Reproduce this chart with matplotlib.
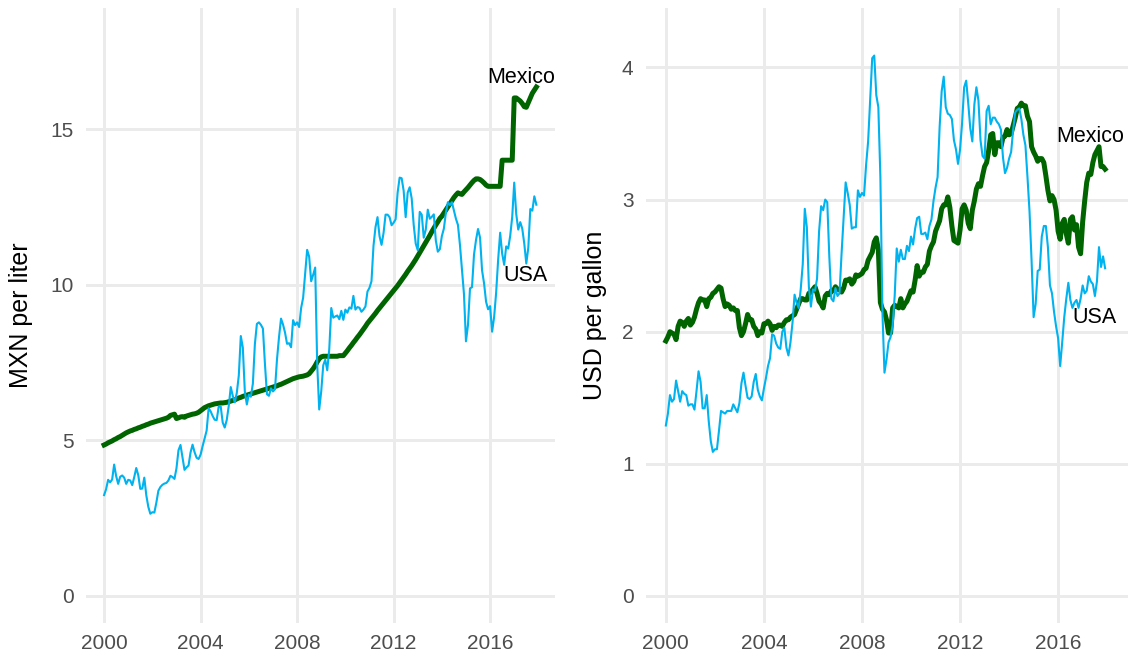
import numpy as np
import matplotlib
matplotlib.use("Agg")
import matplotlib.pyplot as plt

plt.rcParams['font.family'] = ['Liberation Sans', 'DejaVu Sans']

# monthly, Jan 2000 .. Dec 2017
mexico_mxn_liter = [
    4.85, 4.88, 4.92, 4.95, 4.98, 5.02, 5.05, 5.09, 5.12, 5.16, 5.20, 5.24,
    5.27, 5.30, 5.32, 5.35, 5.37, 5.40, 5.42, 5.45, 5.47, 5.50, 5.52, 5.55,
    5.57, 5.59, 5.61, 5.63, 5.65, 5.67, 5.69, 5.71, 5.74, 5.80, 5.82, 5.84,
    5.70, 5.72, 5.75, 5.76, 5.74, 5.78, 5.80, 5.82, 5.84, 5.85, 5.87, 5.90,
    5.95, 6.00, 6.05, 6.08, 6.11, 6.13, 6.15, 6.17, 6.18, 6.19, 6.20, 6.20,
    6.21, 6.22, 6.24, 6.26, 6.28, 6.30, 6.33, 6.36, 6.38, 6.41, 6.43, 6.45,
    6.47, 6.49, 6.51, 6.53, 6.55, 6.57, 6.59, 6.61, 6.63, 6.65, 6.67, 6.69,
    6.71, 6.73, 6.75, 6.78, 6.80, 6.83, 6.86, 6.89, 6.92, 6.95, 6.98, 7.00,
    7.02, 7.04, 7.05, 7.06, 7.08, 7.10, 7.14, 7.22, 7.30, 7.40, 7.52, 7.62,
    7.68, 7.70, 7.70, 7.70, 7.70, 7.70, 7.70, 7.70, 7.70, 7.72, 7.72, 7.72,
    7.80, 7.88, 7.97, 8.05, 8.14, 8.22, 8.31, 8.39, 8.48, 8.57, 8.66, 8.76,
    8.84, 8.92, 9.00, 9.08, 9.17, 9.25, 9.33, 9.41, 9.49, 9.57, 9.65, 9.73,
    9.81, 9.89, 9.97, 10.06, 10.15, 10.24, 10.33, 10.43, 10.52, 10.61, 10.71, 10.81,
    10.92, 11.03, 11.14, 11.25, 11.36, 11.47, 11.58, 11.70, 11.81, 11.92, 12.02, 12.13,
    12.20, 12.30, 12.40, 12.50, 12.60, 12.70, 12.80, 12.88, 12.95, 12.92, 12.90, 12.98,
    13.05, 13.12, 13.20, 13.28, 13.35, 13.40, 13.40, 13.38, 13.33, 13.27, 13.20, 13.16,
    13.16, 13.16, 13.16, 13.16, 13.16, 13.16, 14.00, 14.00, 14.00, 14.00, 14.00, 14.00,
    16.00, 16.00, 15.95, 15.90, 15.82, 15.72, 15.70, 15.85, 16.00, 16.15, 16.25, 16.35,
]

usa_mxn_liter = [
    3.24, 3.43, 3.73, 3.65, 3.74, 4.22, 3.85, 3.60, 3.83, 3.87, 3.80, 3.60,
    3.73, 3.71, 3.56, 3.82, 4.11, 3.88, 3.44, 3.45, 3.80, 3.23, 2.86, 2.64,
    2.69, 2.68, 3.00, 3.38, 3.50, 3.57, 3.61, 3.63, 3.71, 3.86, 3.82, 3.76,
    4.10, 4.68, 4.85, 4.44, 4.05, 4.13, 4.19, 4.61, 4.86, 4.62, 4.44, 4.40,
    4.54, 4.81, 5.06, 5.31, 6.03, 5.93, 5.78, 5.66, 5.65, 6.08, 6.09, 5.57,
    5.41, 5.65, 6.10, 6.71, 6.43, 6.22, 6.52, 7.08, 8.35, 7.98, 6.57, 6.15,
    6.47, 6.40, 6.82, 8.09, 8.74, 8.79, 8.71, 8.59, 7.46, 6.48, 6.43, 6.67,
    6.57, 6.64, 7.60, 8.31, 8.91, 8.72, 8.46, 8.10, 8.12, 7.99, 8.86, 8.70,
    8.79, 8.64, 9.25, 9.58, 10.37, 11.12, 10.90, 10.11, 10.32, 10.55, 7.45, 5.99,
    6.57, 7.41, 7.59, 7.25, 7.93, 9.25, 8.94, 8.98, 9.01, 8.89, 9.16, 8.87,
    9.20, 9.10, 9.27, 9.23, 9.64, 9.20, 9.28, 9.26, 9.13, 9.20, 9.30, 9.78,
    9.90, 10.11, 11.25, 11.85, 12.17, 11.56, 11.28, 11.66, 12.25, 12.25, 12.17, 11.91,
    11.99, 12.10, 12.96, 13.44, 13.42, 13.02, 12.17, 12.96, 13.13, 12.77, 11.92, 11.32,
    11.11, 12.34, 12.25, 11.51, 11.77, 12.41, 12.12, 12.18, 12.26, 11.42, 11.06, 11.14,
    11.56, 11.80, 12.31, 12.65, 12.56, 12.65, 12.39, 12.12, 11.92, 11.28, 10.47, 9.70,
    8.18, 8.71, 9.88, 9.92, 10.97, 11.44, 11.79, 11.51, 10.46, 10.04, 9.45, 9.21,
    9.31, 8.49, 8.96, 9.74, 10.80, 11.67, 11.00, 10.64, 11.23, 11.16, 11.57, 12.18,
    13.28, 12.27, 11.77, 12.01, 11.80, 11.32, 10.68, 11.19, 12.43, 12.38, 12.84, 12.57,
]

usa_usd_gallon = [
    1.29, 1.38, 1.52, 1.47, 1.49, 1.63, 1.55, 1.47, 1.55, 1.53, 1.52, 1.44,
    1.45, 1.45, 1.41, 1.55, 1.70, 1.62, 1.42, 1.42, 1.52, 1.32, 1.17, 1.09,
    1.11, 1.11, 1.25, 1.40, 1.39, 1.38, 1.40, 1.40, 1.40, 1.45, 1.42, 1.39,
    1.46, 1.61, 1.69, 1.59, 1.50, 1.49, 1.51, 1.62, 1.68, 1.56, 1.51, 1.48,
    1.57, 1.65, 1.74, 1.80, 1.98, 1.97, 1.91, 1.88, 1.87, 2.00, 2.03, 1.88,
    1.82, 1.92, 2.07, 2.28, 2.22, 2.18, 2.32, 2.51, 2.93, 2.79, 2.34, 2.19,
    2.32, 2.31, 2.40, 2.76, 2.95, 2.92, 3.00, 2.98, 2.57, 2.25, 2.23, 2.33,
    2.27, 2.29, 2.59, 2.86, 3.13, 3.05, 2.96, 2.78, 2.79, 2.79, 3.07, 3.02,
    3.05, 3.03, 3.26, 3.44, 3.76, 4.07, 4.09, 3.79, 3.70, 3.17, 2.15, 1.69,
    1.79, 1.92, 1.96, 2.05, 2.27, 2.63, 2.53, 2.62, 2.55, 2.55, 2.65, 2.61,
    2.72, 2.66, 2.78, 2.86, 2.87, 2.74, 2.74, 2.75, 2.70, 2.80, 2.85, 2.99,
    3.09, 3.17, 3.55, 3.82, 3.93, 3.70, 3.65, 3.64, 3.61, 3.45, 3.38, 3.27,
    3.38, 3.58, 3.85, 3.90, 3.73, 3.54, 3.44, 3.72, 3.85, 3.75, 3.45, 3.33,
    3.31, 3.67, 3.71, 3.57, 3.62, 3.62, 3.59, 3.57, 3.53, 3.32, 3.20, 3.24,
    3.31, 3.36, 3.53, 3.66, 3.68, 3.69, 3.61, 3.49, 3.41, 3.17, 2.91, 2.54,
    2.11, 2.21, 2.46, 2.47, 2.72, 2.80, 2.80, 2.64, 2.35, 2.29, 2.15, 2.04,
    1.95, 1.74, 1.92, 2.11, 2.25, 2.37, 2.24, 2.18, 2.22, 2.24, 2.18, 2.25,
    2.35, 2.29, 2.31, 2.42, 2.38, 2.36, 2.27, 2.38, 2.64, 2.49, 2.57, 2.48,
]

mexico_usd_gallon = [
    1.93, 1.96, 2.00, 1.99, 1.98, 1.94, 2.04, 2.08, 2.07, 2.04, 2.08, 2.10,
    2.05, 2.07, 2.11, 2.17, 2.22, 2.25, 2.24, 2.24, 2.19, 2.25, 2.26, 2.29,
    2.30, 2.32, 2.34, 2.33, 2.25, 2.19, 2.21, 2.20, 2.17, 2.18, 2.16, 2.16,
    2.03, 1.97, 2.00, 2.06, 2.13, 2.09, 2.09, 2.04, 2.02, 1.97, 2.00, 1.99,
    2.06, 2.06, 2.08, 2.06, 2.01, 2.04, 2.03, 2.05, 2.05, 2.04, 2.07, 2.09,
    2.09, 2.11, 2.12, 2.13, 2.17, 2.21, 2.25, 2.25, 2.24, 2.24, 2.29, 2.30,
    2.32, 2.34, 2.29, 2.23, 2.21, 2.18, 2.27, 2.29, 2.28, 2.31, 2.31, 2.34,
    2.32, 2.32, 2.30, 2.33, 2.39, 2.39, 2.40, 2.36, 2.38, 2.43, 2.42, 2.43,
    2.44, 2.47, 2.48, 2.54, 2.57, 2.60, 2.68, 2.71, 2.62, 2.22, 2.17, 2.15,
    2.09, 1.99, 1.99, 2.18, 2.20, 2.19, 2.18, 2.25, 2.18, 2.21, 2.23, 2.27,
    2.31, 2.30, 2.39, 2.50, 2.42, 2.45, 2.45, 2.49, 2.51, 2.61, 2.65, 2.68,
    2.76, 2.80, 2.84, 2.93, 2.96, 2.96, 3.02, 2.94, 2.80, 2.69, 2.68, 2.67,
    2.77, 2.93, 2.96, 2.92, 2.82, 2.78, 2.92, 2.99, 3.08, 3.12, 3.10, 3.18,
    3.25, 3.28, 3.37, 3.49, 3.50, 3.34, 3.43, 3.43, 3.40, 3.47, 3.48, 3.53,
    3.49, 3.50, 3.56, 3.62, 3.69, 3.70, 3.73, 3.71, 3.71, 3.63, 3.59, 3.40,
    3.36, 3.33, 3.29, 3.31, 3.31, 3.28, 3.18, 3.07, 2.99, 3.03, 3.00, 2.92,
    2.76, 2.70, 2.82, 2.85, 2.74, 2.67, 2.85, 2.87, 2.77, 2.81, 2.64, 2.59,
    2.83, 2.99, 3.13, 3.20, 3.19, 3.28, 3.34, 3.37, 3.40, 3.25, 3.25, 3.23,
]

year_ticks = [2000, 2004, 2008, 2012, 2016]
mxn_ticks = [0, 5, 10, 15]
usd_ticks = [0, 1, 2, 3, 4]

# fecha en años decimales
t = 2000 + np.arange(len(mexico_mxn_liter)) / 12

GREEN = '#006400'
BLUE = '#00B2EE'
GRID = '#EBEBEB'

fig = plt.figure(figsize=(11.3, 6.6), dpi=100)
ax1 = fig.add_axes([86 / 1130, 1 - 623 / 660, 469 / 1130, 615 / 660])
ax2 = fig.add_axes([646 / 1130, 1 - 623 / 660, 482 / 1130, 615 / 660])


def uredi(ax, yticks, ylabel, xlim, ylim, labelx):
    ax.set_xlim(*xlim)
    ax.set_ylim(*ylim)
    ax.set_xticks(year_ticks)
    ax.set_yticks(yticks)
    for s in ax.spines.values():
        s.set_visible(False)
    ax.grid(True, color=GRID, linewidth=2.1)
    ax.set_axisbelow(True)
    ax.tick_params(length=0, labelsize=15, labelcolor='#4D4D4D')
    ax.tick_params(axis='y', pad=9)
    ax.tick_params(axis='x', pad=8)
    ax.set_ylabel(ylabel, fontsize=18, color='black')
    ax.yaxis.set_label_coords(labelx, 0.5)


# lijevi panel: MXN po litri
ax1.plot(t, mexico_mxn_liter, color=GREEN, linewidth=3.6, solid_joinstyle='round')
ax1.plot(t, usa_mxn_liter, color=BLUE, linewidth=1.5)
ax1.text(2017.29, 16.67, 'Mexico', fontsize=15.5, ha='center', va='center')
ax1.text(2017.45, 10.28, 'USA', fontsize=15.5, ha='center', va='center')
uredi(ax1, mxn_ticks, 'MXN per liter', (1999.25, 2018.69), (-0.87, 18.89), -0.112)

# desni panel: USD po galonu
ax2.plot(t, mexico_usd_gallon, color=GREEN, linewidth=3.6, solid_joinstyle='round')
ax2.plot(t, usa_usd_gallon, color=BLUE, linewidth=1.5)
ax2.text(2017.31, 3.48, 'Mexico', fontsize=15.5, ha='center', va='center')
ax2.text(2017.47, 2.11, 'USA', fontsize=15.5, ha='center', va='center')
uredi(ax2, usd_ticks, 'USD per gallon', (1999.19, 2018.85), (-0.205, 4.45), -0.081)

fig.savefig('out.png', dpi=100)
